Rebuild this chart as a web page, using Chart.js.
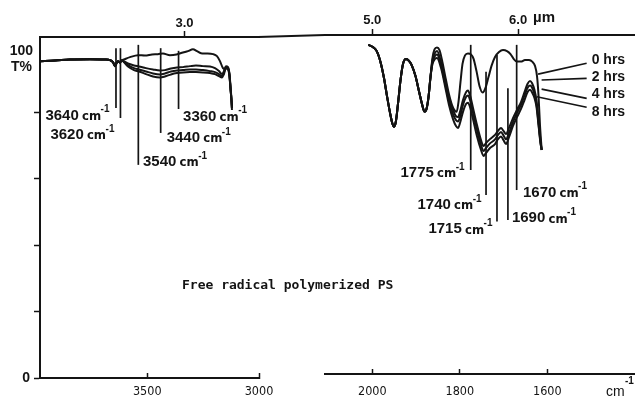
<!DOCTYPE html>
<html><head><meta charset="utf-8">
<script src="https://cdn.jsdelivr.net/npm/chart.js@4.4.1/dist/chart.umd.min.js"></script>
<style>
html,body{margin:0;padding:0;background:#fff;}
#wrap{position:relative;width:635px;height:402px;overflow:hidden;background:#fff;}
#cL{position:absolute;left:0;top:0;width:635px;height:402px;}
#cR{position:absolute;left:324px;top:0;width:311px;height:402px;}
</style></head><body>
<div id="wrap"><canvas id="cL" width="635" height="402"></canvas><canvas id="cR" width="311" height="402"></canvas></div>
<script>
// ---------- DATA (wavenumber cm-1, transmittance %) ----------
const seriesLabels = ['0 hrs', '2 hrs', '4 hrs', '8 hrs'];

// Left panel (O-H region)
const leftWn0 = [3980, 3912.9, 3845.8, 3756.3, 3689.2, 3666.8, 3653.4, 3644.5, 3637.7, 3631.0, 3622.1, 3615.4, 3604.2, 3577.3, 3541.5, 3510.2, 3478.9, 3452.1, 3429.7, 3398.4, 3369.3, 3340.3, 3317.9, 3295.5, 3277.6, 3259.7, 3237.3, 3205.9, 3188.1, 3174.7, 3161.3, 3152.3, 3143.4, 3134.4, 3127.7, 3123.2, 3121.0];
const leftT0 = [95.3, 95.5, 95.8, 95.9, 95.8, 95.6, 95.0, 93.8, 94.7, 95.3, 94.9, 95.5, 95.8, 96.5, 97.1, 97.0, 97.3, 97.4, 97.6, 97.1, 97.3, 97.9, 98.3, 98.9, 98.3, 97.7, 97.6, 97.4, 96.8, 95.3, 93.2, 92.9, 93.2, 92.3, 88.1, 83.6, 80.6];
const leftWnLow = [3980, 3912.9, 3845.8, 3756.3, 3689.2, 3666.8, 3653.4, 3644.5, 3637.7, 3631.0, 3622.1, 3615.4, 3586.3, 3559.4, 3537.1, 3505.8, 3474.4, 3443.1, 3420.8, 3393.9, 3367.1, 3340.3, 3308.9, 3282.1, 3250.7, 3219.4, 3197.0, 3179.1, 3165.7, 3156.8, 3147.8, 3138.9, 3132.2, 3127.7, 3123.2, 3121.0];
const leftT2 = [95.3, 95.5, 95.8, 95.9, 95.8, 95.6, 95.0, 93.8, 94.7, 95.3, 94.9, 95.5, 94.6, 94.0, 93.7, 93.2, 92.8, 92.5, 92.6, 93.1, 93.4, 93.5, 93.8, 94.0, 93.8, 93.7, 93.2, 92.3, 91.4, 92.3, 93.8, 93.5, 91.4, 87.2, 83.6, 81.2];
const leftT4 = [95.3, 95.5, 95.8, 95.9, 95.8, 95.6, 95.0, 93.8, 94.7, 95.3, 94.9, 95.5, 94.1, 93.2, 92.8, 92.2, 91.6, 91.3, 91.6, 92.2, 92.5, 92.6, 92.8, 92.8, 92.6, 92.3, 92.0, 91.4, 90.8, 91.9, 93.5, 93.2, 91.1, 87.2, 83.6, 81.2];
const leftT8 = [95.3, 95.5, 95.8, 95.9, 95.8, 95.6, 95.0, 93.8, 94.7, 95.3, 94.9, 95.5, 93.7, 92.6, 92.2, 91.4, 90.7, 90.4, 90.7, 91.3, 91.7, 91.9, 92.0, 92.0, 91.9, 91.7, 91.4, 90.8, 90.4, 91.4, 93.2, 92.9, 90.8, 87.2, 83.6, 81.2];

// Right panel (carbonyl region)
const rightWn0 = [2009.1, 2000.7, 1989.9, 1981.3, 1973.3, 1966.4, 1959.5, 1953.8, 1950.4, 1946.3, 1941.3, 1935.5, 1929.8, 1923.0, 1916.1, 1909.3, 1901.3, 1893.3, 1886.4, 1880.7, 1876.1, 1871.5, 1867.0, 1862.4, 1857.8, 1852.1, 1846.4, 1840.7, 1833.8, 1825.8, 1817.8, 1811.0, 1807.1, 1803.0, 1798.4, 1793.8, 1788.1, 1781.3, 1774.4, 1768.7, 1761.8, 1755.0, 1747.7, 1741.3, 1734.4, 1727.5, 1719.5, 1710.4, 1701.3, 1692.1, 1684.1, 1677.3, 1669.3, 1660.1, 1651.0, 1641.8, 1633.8, 1628.1, 1623.5, 1620.1, 1616.7, 1612.8];
const rightT0 = [100.2, 99.7, 98.3, 95.0, 90.1, 84.6, 79.5, 76.1, 75.3, 76.7, 82.2, 89.5, 94.4, 95.9, 95.3, 93.8, 90.7, 86.1, 82.2, 79.9, 80.7, 84.3, 90.4, 96.2, 98.8, 99.4, 98.6, 95.6, 91.0, 85.8, 81.9, 80.1, 79.8, 82.8, 88.9, 94.4, 97.0, 97.6, 97.3, 96.0, 92.2, 87.7, 85.7, 87.1, 90.4, 93.8, 96.5, 98.0, 98.6, 98.3, 97.4, 96.0, 95.1, 95.1, 95.6, 95.6, 95.0, 93.8, 90.7, 84.9, 75.8, 68.2];
const rightWnLow = [2009.1, 2000.7, 1989.9, 1981.3, 1973.3, 1966.4, 1959.5, 1953.8, 1950.4, 1946.3, 1941.3, 1935.5, 1929.8, 1923.0, 1916.1, 1909.3, 1901.3, 1893.3, 1886.4, 1880.7, 1876.1, 1871.5, 1867.0, 1862.4, 1856.7, 1852.1, 1843.0, 1833.8, 1824.7, 1815.5, 1808.7, 1804.1, 1799.5, 1792.7, 1785.8, 1781.3, 1776.7, 1769.8, 1760.7, 1751.5, 1745.8, 1740.1, 1731.0, 1719.5, 1712.7, 1705.8, 1700.1, 1694.4, 1687.5, 1678.4, 1669.3, 1660.1, 1652.1, 1645.3, 1639.5, 1635.0, 1629.3, 1624.7, 1620.1, 1615.6, 1612.8];
const rightT2 = [100.2, 99.7, 98.3, 95.0, 90.1, 84.6, 79.5, 76.1, 75.3, 76.7, 82.2, 89.5, 94.4, 95.9, 95.3, 93.8, 90.7, 86.1, 82.2, 79.9, 80.7, 84.3, 90.4, 95.6, 97.7, 98.3, 95.0, 89.5, 84.0, 80.4, 78.5, 78.2, 79.8, 83.4, 85.8, 86.3, 84.9, 81.0, 75.8, 71.2, 69.4, 70.3, 71.5, 72.8, 74.0, 74.9, 74.0, 73.1, 74.9, 77.9, 80.4, 82.8, 85.8, 88.3, 89.2, 88.6, 86.5, 83.4, 77.3, 71.2, 68.2];
const rightT4 = [100.2, 99.7, 98.3, 95.0, 90.1, 84.6, 79.5, 76.1, 75.3, 76.7, 82.2, 89.5, 94.4, 95.9, 95.3, 93.8, 90.7, 86.1, 82.2, 79.9, 80.7, 84.3, 90.4, 95.0, 96.8, 97.3, 94.1, 88.6, 83.1, 79.1, 77.3, 76.9, 78.2, 81.9, 84.3, 84.8, 83.4, 79.5, 74.3, 69.7, 67.9, 68.8, 70.2, 71.4, 72.8, 73.7, 72.6, 71.5, 73.4, 76.7, 79.5, 81.9, 84.8, 87.1, 87.8, 87.2, 85.2, 82.2, 76.4, 70.6, 68.2];
const rightT8 = [100.2, 99.7, 98.3, 95.0, 90.1, 84.6, 79.5, 76.1, 75.3, 76.7, 82.2, 89.5, 94.4, 95.9, 95.3, 93.8, 90.7, 86.1, 82.2, 79.9, 80.7, 84.3, 90.4, 94.4, 95.9, 96.2, 93.2, 87.7, 81.9, 77.6, 75.5, 74.9, 76.4, 79.8, 82.2, 82.6, 81.3, 77.6, 72.4, 68.2, 66.4, 67.3, 68.8, 70.0, 71.5, 72.3, 71.2, 70.0, 72.1, 75.5, 78.2, 80.7, 83.4, 85.8, 86.5, 85.8, 84.0, 81.3, 75.8, 70.3, 68.2];

// Tick values
const leftBottomTicks = [3500, 3000];
const rightBottomTicks = [2000, 1800, 1600];
const leftMicronTicks = [3.0];
const rightMicronTicks = [5.0, 6.0];
const yTickValues = [0, 20, 40, 60, 80];

// Band markers (wavenumber, top T, bottom T)
const leftMarkWn = [3640, 3620, 3540, 3440, 3360];
const leftMarkTop = [99.2, 99.2, 100.2, 99.2, 98.4];
const leftMarkBottom = [81.2, 78.2, 64.1, 73.7, 80.9];
const rightMarkWn = [1775, 1740, 1715, 1690, 1670];
const rightMarkTop = [100.2, 92.0, 97.1, 87.0, 100.2];
const rightMarkBottom = [62.1, 54.5, 46.4, 46.9, 56.0];

// Legend leader lines (right panel)
const legendStartWn = 1510;
const legendStartT = [94.6, 90.0, 83.9, 81.2];
const legendTextT = [95.6, 90.5, 85.1, 79.8];
const legendTipWn = [1621, 1613, 1613, 1624];
const legendTipT = [91.3, 89.5, 86.7, 84.4];

// ---------- STYLE ----------
const INK = '#141414';
const F_NUM = "bold 15px 'Liberation Sans', Arial, sans-serif";
const F_CM = "bold 13px 'Liberation Sans Narrow', 'DejaVu Sans Condensed', sans-serif";
const F_SUP = "bold 10px 'Liberation Sans', Arial, sans-serif";
const NARROW = "'Liberation Sans Narrow', 'DejaVu Sans Condensed', sans-serif";
const leftLabOff = [[-6, 7.7], [-5.5, 17], [4.7, -3], [6, 5], [4.5, 7.7]];
const rightLabOff = [[-5.7, 3], [-4, 10], [-4, 7.6], [4, -1.7], [6.3, 2.7]];

function pts(xs, ys) { return xs.map((x, i) => ({ x: x, y: ys[i] })); }
function ds(label, xs, ys) {
  return { label: label, data: pts(xs, ys), borderColor: INK, borderWidth: 2, pointRadius: 0,
    fill: false, cubicInterpolationMode: 'monotone', xAxisID: 'x', yAxisID: 'y' };
}
function drawCmLabel(ctx, num, x, y, align) {
  ctx.font = F_NUM; const t1 = num + ' '; const w1 = ctx.measureText(t1).width;
  ctx.font = F_CM; const w2 = ctx.measureText('cm').width;
  ctx.font = F_SUP; const w3 = ctx.measureText('-1').width;
  const x0 = align === 'right' ? x - (w1 + w2 + w3 - 1) : x;
  ctx.textAlign = 'left'; ctx.textBaseline = 'middle';
  ctx.font = F_NUM; ctx.fillText(t1, x0, y);
  ctx.font = F_CM; ctx.fillText('cm', x0 + w1 - 1, y + 1);
  ctx.font = F_SUP; ctx.fillText('-1', x0 + w1 + w2 - 1.5, y - 6);
}
function markerDraw(chart, wns, tops, bots, offs) {
  const ctx = chart.ctx, xs = chart.scales.x, ys = chart.scales.y;
  ctx.save();
  ctx.strokeStyle = INK; ctx.fillStyle = INK; ctx.lineWidth = 1.7;
  wns.forEach((wn, i) => {
    const px = xs.getPixelForValue(wn);
    const y1 = ys.getPixelForValue(tops[i]), y2 = ys.getPixelForValue(bots[i]);
    ctx.beginPath(); ctx.moveTo(px, y1); ctx.lineTo(px, y2); ctx.stroke();
    const o = offs[i];
    drawCmLabel(ctx, String(wn), px + o[0], y2 + o[1], o[0] < 0 ? 'right' : 'left');
  });
  ctx.restore();
}
function xAxis(min, max, tickVals, h, pad) {
  return { type: 'linear', position: 'bottom', reverse: true, min: min, max: max,
    afterBuildTicks: s => { s.ticks = tickVals.map(v => ({ value: v })); },
    afterFit: s => { s.height = h; },
    ticks: { color: INK, font: { family: NARROW, size: 12.5 }, padding: pad, maxRotation: 0, autoSkip: false,
      callback: v => String(v) },
    grid: { drawOnChartArea: false, drawTicks: true, tickLength: -5, tickColor: INK, tickWidth: 1.5 },
    border: { display: true, color: INK, width: 2 } };
}
function topAxis(min, max, microns, h, pad) {
  return { type: 'linear', position: 'top', reverse: true, min: min, max: max,
    afterBuildTicks: s => { s.ticks = microns.map(u => ({ value: 10000 / u })); },
    afterFit: s => { s.height = h; },
    ticks: { color: INK, font: { family: "'Liberation Sans', Arial, sans-serif", size: 13, weight: 'bold' },
      padding: pad, maxRotation: 0, autoSkip: false, callback: v => (10000 / v).toFixed(1) },
    grid: { drawOnChartArea: false, drawTicks: true, tickLength: 6, tickColor: INK, tickWidth: 1.5 },
    border: { display: true, color: INK, width: 2 } };
}

// ---------- LEFT CHART ----------
const leftPlugin = {
  id: 'leftDeco',
  afterDraw(chart) {
    const ctx = chart.ctx, a = chart.chartArea, ys = chart.scales.y;
    markerDraw(chart, leftMarkWn, leftMarkTop, leftMarkBottom, leftLabOff);
    ctx.save();
    ctx.fillStyle = INK; ctx.strokeStyle = INK;
    ctx.font = "bold 14px 'Liberation Sans', Arial, sans-serif";
    ctx.textAlign = 'right'; ctx.textBaseline = 'middle';
    const y100 = ys.getPixelForValue(100);
    ctx.fillText('100', a.left - 7, y100 + 6);
    ctx.fillText('T%', a.left - 8, y100 + 22);
    // continuation of the top frame across the panel gap
    ctx.lineWidth = 2;
    ctx.beginPath(); ctx.moveTo(a.right - 1, a.top); ctx.lineTo(325, 35); ctx.stroke();
    // caption
    ctx.font = "bold 13px 'DejaVu Sans Mono', monospace";
    ctx.textAlign = 'left';
    ctx.fillText('Free radical polymerized PS', 182, 286);
    ctx.restore();
  }
};
new Chart(document.getElementById('cL'), {
  type: 'line',
  data: { datasets: [
    ds(seriesLabels[0], leftWn0, leftT0),
    ds(seriesLabels[1], leftWnLow, leftT2),
    ds(seriesLabels[2], leftWnLow, leftT4),
    ds(seriesLabels[3], leftWnLow, leftT8)
  ] },
  options: {
    responsive: false, animation: false, devicePixelRatio: 1,
    layout: { padding: { left: 0, right: 376, top: 0, bottom: 0 } },
    plugins: { legend: { display: false }, tooltip: { enabled: false } },
    scales: {
      x: xAxis(3000, 3980, leftBottomTicks, 24, 11),
      xTop: topAxis(3000, 3980, leftMicronTicks, 37, 0),
      y: { min: 0, max: 102.56,
        afterBuildTicks: s => { s.ticks = yTickValues.map(v => ({ value: v })); },
        afterFit: s => { s.width = 40; },
        ticks: { color: INK, padding: 4, font: { family: "'Liberation Sans', Arial, sans-serif", size: 14, weight: 'bold' },
          callback: v => (v === 0 ? '0' : '') },
        grid: { drawOnChartArea: false, drawTicks: true, tickLength: 6, tickColor: INK, tickWidth: 1.5 },
        border: { display: true, color: INK, width: 2 } }
    }
  },
  plugins: [leftPlugin]
});

// ---------- RIGHT CHART ----------
const rightPlugin = {
  id: 'rightDeco',
  afterDraw(chart) {
    const ctx = chart.ctx, a = chart.chartArea, xs = chart.scales.x, ys = chart.scales.y;
    markerDraw(chart, rightMarkWn, rightMarkTop, rightMarkBottom, rightLabOff);
    ctx.save();
    ctx.fillStyle = INK; ctx.strokeStyle = INK; ctx.lineWidth = 1.7;
    const sx = xs.getPixelForValue(legendStartWn);
    seriesLabels.forEach((lab, i) => {
      ctx.beginPath();
      ctx.moveTo(sx, ys.getPixelForValue(legendStartT[i]));
      ctx.lineTo(xs.getPixelForValue(legendTipWn[i]), ys.getPixelForValue(legendTipT[i]));
      ctx.stroke();
      ctx.font = "bold 14px 'Liberation Sans', Arial, sans-serif";
      ctx.textAlign = 'left'; ctx.textBaseline = 'middle';
      ctx.fillText(lab, sx + 5, ys.getPixelForValue(legendTextT[i]));
    });
    // unit labels
    ctx.font = "bold 15px 'Liberation Sans', Arial, sans-serif";
    ctx.textAlign = 'left'; ctx.textBaseline = 'middle';
    ctx.fillText('\u00b5m', xs.getPixelForValue(10000 / 6) + 15, 18);
    ctx.font = "14px 'Liberation Sans', Arial, sans-serif";
    ctx.fillText('cm', a.right - 29, 392);
    ctx.font = F_SUP;
    ctx.fillText('-1', a.right - 10, 381);
    ctx.restore();
  }
};
new Chart(document.getElementById('cR'), {
  type: 'line',
  data: { datasets: [
    ds(seriesLabels[0], rightWn0, rightT0),
    ds(seriesLabels[1], rightWnLow, rightT2),
    ds(seriesLabels[2], rightWnLow, rightT4),
    ds(seriesLabels[3], rightWnLow, rightT8)
  ] },
  options: {
    responsive: false, animation: false, devicePixelRatio: 1,
    layout: { padding: 0 },
    plugins: { legend: { display: false }, tooltip: { enabled: false } },
    scales: {
      x: xAxis(1399.5, 2110.4, rightBottomTicks, 28, 15),
      xTop: topAxis(1399.5, 2110.4, rightMicronTicks, 35, 1),
      y: { display: false, min: 0, max: 103.2 }
    }
  },
  plugins: [rightPlugin]
});
</script>
</body></html>
